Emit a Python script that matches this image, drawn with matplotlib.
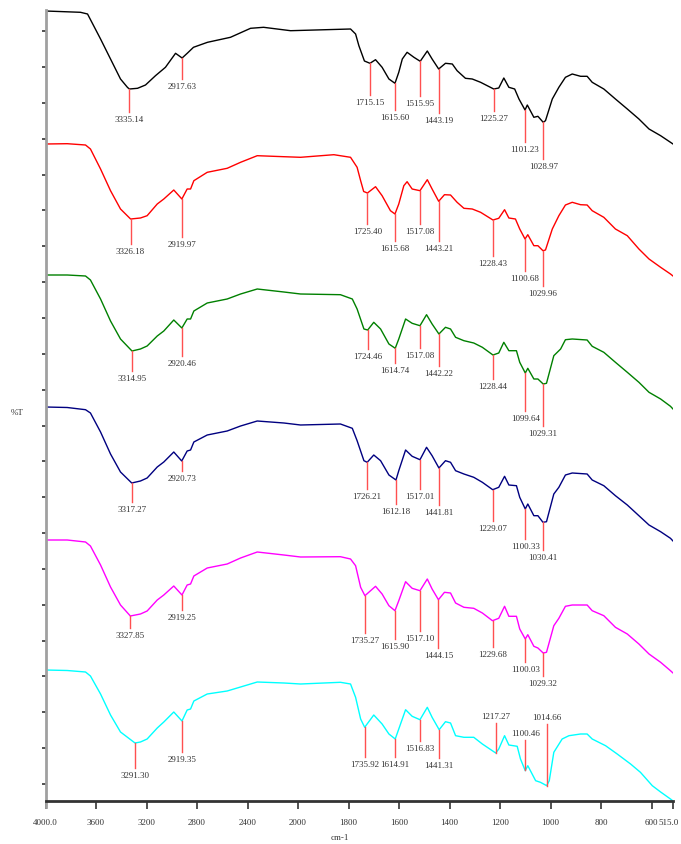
import numpy as np
import matplotlib
matplotlib.use('Agg')
import matplotlib.pyplot as plt
from matplotlib.transforms import ScaledTranslation

plt.rcParams['font.family'] = ['Liberation Serif', 'DejaVu Serif']

# Spectra (wavenumber in cm-1, %T in stacked arbitrary units)
wn_black = [4000, 3723, 3667, 3564, 3485, 3406, 3350, 3335, 3271, 3208,
            3129, 3050, 2970, 2918, 2875, 2828, 2717, 2535, 2376, 2273,
            2059, 1792, 1772, 1759, 1737, 1715, 1693, 1667, 1640, 1616,
            1601, 1587, 1568, 1541, 1516, 1488, 1469, 1443, 1416, 1389,
            1370, 1337, 1310, 1277, 1225, 1205, 1185, 1165, 1142, 1125,
            1101, 1092, 1066, 1050, 1029, 1020, 993, 967, 941, 914,
            881, 855, 835, 789, 743, 696, 650, 610, 564, 525, 515]
t_black = [790, 788.7, 787, 762, 742, 722, 713.5, 712, 712.7, 716,
           725.3, 733.7, 747.7, 743, 748, 753.7, 758.7, 763.7, 772.7, 773.7,
           770.3, 772, 767, 755.3, 740, 737.7, 741.3, 733.7, 722, 717.7,
           728.7, 742, 748.7, 743.7, 739.7, 750, 742, 732, 737.7, 737,
           730.3, 722.7, 722, 718.7, 712, 713, 723, 713.7, 712, 702,
           691, 696, 683.7, 684.7, 678.7, 680.3, 702, 713.7, 723.7, 727,
           724.7, 724.7, 718.7, 712, 702, 692, 682, 672, 665.3, 658.7, 657]

wn_red = [4000, 3828, 3683, 3644, 3564, 3485, 3406, 3326, 3248, 3195,
          3115, 3063, 2984, 2920, 2878, 2851, 2825, 2719, 2561, 2455,
          2323, 2112, 1990, 1858, 1792, 1766, 1752, 1740, 1725, 1693,
          1667, 1634, 1616, 1601, 1581, 1568, 1548, 1517, 1488, 1469,
          1443, 1420, 1396, 1370, 1343, 1310, 1277, 1228, 1205, 1182,
          1165, 1139, 1122, 1101, 1090, 1066, 1050, 1030, 1020, 993,
          967, 941, 914, 881, 855, 835, 789, 743, 696, 650,
          610, 564, 525, 515]
t_red = [657, 657.3, 656, 652, 632, 610.3, 592, 582, 583, 585.3,
         597, 602, 611, 602, 612, 612, 620.3, 628.7, 632.7, 638.7,
         645.3, 644.3, 643.7, 646.3, 643.7, 633.7, 620.3, 609.5, 608, 614.3,
         605.3, 590.3, 587, 597, 615.3, 619.3, 612, 610.3, 621.3, 612,
         599.7, 606.3, 606, 598.7, 592.7, 592, 588.7, 581, 582.7, 591.3,
         583, 582, 572, 562, 566.3, 555.3, 555.3, 550.3, 551, 572,
         585.3, 596, 598.7, 596.3, 596, 590.3, 583.7, 572, 565.3, 552,
         542, 533.7, 527, 525]

wn_green = [4000, 3828, 3683, 3644, 3564, 3485, 3406, 3315, 3248, 3195,
            3115, 3063, 2984, 2920, 2878, 2851, 2825, 2719, 2561, 2455,
            2323, 2112, 1990, 1832, 1785, 1766, 1739, 1724, 1700, 1673,
            1640, 1615, 1601, 1574, 1548, 1517, 1491, 1469, 1442, 1416,
            1396, 1376, 1343, 1304, 1270, 1228, 1205, 1185, 1165, 1135,
            1122, 1100, 1090, 1066, 1050, 1029, 1016, 987, 960, 941,
            914, 855, 835, 789, 743, 696, 650, 610, 564, 525, 515]
t_green = [526, 526, 525, 521, 502, 480, 462, 450, 452, 455,
           465, 470, 481, 473, 482, 482, 490, 498, 502, 507,
           512, 509, 507, 506.3, 502, 492, 472, 471, 478.7, 472,
           457, 452.7, 462, 482, 477.7, 475.3, 486.3, 477, 467, 473.7,
           472, 463.7, 460.3, 458, 453.7, 446, 448, 458.7, 450.3, 450.3,
           438.7, 428, 432.7, 422, 422, 417, 417.7, 445.3, 452, 461.3,
           462, 461, 454.7, 448.7, 438.7, 428.7, 418.7, 408.7, 402, 394.7, 392]

wn_blue = [4000, 3828, 3683, 3644, 3564, 3485, 3406, 3317, 3248, 3195,
           3115, 3063, 2984, 2921, 2878, 2851, 2825, 2719, 2561, 2455,
           2323, 2112, 1990, 1832, 1785, 1766, 1739, 1726, 1700, 1673,
           1640, 1612, 1601, 1574, 1548, 1517, 1491, 1469, 1442, 1416,
           1396, 1376, 1343, 1304, 1270, 1229, 1205, 1182, 1165, 1135,
           1122, 1100, 1090, 1066, 1050, 1030, 1016, 987, 967, 941,
           914, 855, 835, 789, 743, 696, 650, 610, 564, 525, 515]
t_blue = [394, 393.5, 391.3, 388, 369, 347, 329, 318, 320, 323,
          334, 339, 349, 340, 350, 351, 359, 366, 370, 375,
          380, 378, 376, 377, 372.7, 360.3, 340.3, 338.7, 346, 340.3,
          326, 321, 330.3, 351, 344.7, 341.3, 353.7, 345.3, 333, 340.3,
          338.7, 330.3, 327, 323.7, 318.7, 311.3, 313.7, 324.7, 316, 315.3,
          303.7, 292, 297, 285.3, 285.3, 278.7, 279.3, 307, 313.7, 326,
          328, 327, 321, 315.3, 305.3, 296, 285.3, 276, 269.3, 262.7, 260]

wn_magenta = [4000, 3828, 3683, 3644, 3564, 3485, 3406, 3328, 3248, 3195,
              3115, 3063, 2984, 2919, 2878, 2851, 2825, 2719, 2561, 2455,
              2323, 2112, 1990, 1832, 1792, 1772, 1752, 1735, 1693, 1667,
              1640, 1616, 1601, 1574, 1548, 1517, 1488, 1469, 1444, 1420,
              1396, 1376, 1343, 1304, 1270, 1230, 1205, 1182, 1165, 1135,
              1122, 1100, 1090, 1066, 1050, 1029, 1016, 987, 967, 941,
              914, 855, 835, 789, 743, 696, 650, 610, 564, 525, 515]
t_magenta = [261, 261, 259, 255, 236, 214, 196, 185, 187, 190,
             201, 206, 215, 206, 216, 217, 225, 233, 237, 243,
             249, 246, 244, 244.3, 242, 235.3, 213.7, 205.3, 214.7, 207,
             195.3, 190.3, 200.3, 219.3, 212.7, 210.3, 222, 212, 201.3, 208.7,
             208, 198, 193.7, 192.7, 188, 180.3, 182.7, 194.7, 184.7, 184.7,
             172, 162, 166.3, 154.7, 153, 148, 148.7, 175.3, 182.7, 194.7,
             196, 196, 190.3, 185.3, 173.7, 167, 157, 147, 138.7, 130.3, 128]

wn_cyan = [4000, 3828, 3683, 3644, 3564, 3485, 3406, 3291, 3248, 3195,
           3115, 3063, 2984, 2919, 2878, 2851, 2825, 2719, 2561, 2455,
           2323, 2112, 1990, 1832, 1792, 1772, 1752, 1736, 1700, 1667,
           1640, 1615, 1601, 1574, 1548, 1517, 1488, 1469, 1441, 1416,
           1396, 1376, 1343, 1304, 1270, 1217, 1205, 1182, 1165, 1132,
           1119, 1100, 1090, 1059, 1040, 1015, 1005, 987, 954, 927,
           881, 855, 835, 782, 736, 683, 644, 597, 564, 525, 515]
t_cyan = [131, 130.5, 129, 125, 107, 86, 69, 58, 59, 62,
          73, 79, 89, 80, 91, 92, 100, 107, 110, 114,
          119, 118, 117, 118.7, 117, 103.7, 82, 73.7, 86, 77,
          67, 62, 72, 91.3, 84.7, 81.3, 93.7, 83.7, 71.3, 79.3,
          78, 65.3, 63.7, 63.7, 57, 48, 52, 65.3, 56, 54.7,
          42, 30.3, 35.3, 20.3, 18.7, 15.3, 20.3, 48.7, 62, 65.3,
          67, 67, 62, 55.3, 47, 37, 28.7, 15.3, 9, 2, 0]

# Peak picks per spectrum, and the length of each marker line (negative = label above)
pk_black = [3335.14, 2917.63, 1715.15, 1615.60, 1515.95, 1443.19, 1225.27, 1101.23, 1028.97]
len_black = [23, 21, 32, 27, 35, 44, 22, 32, 37]
pk_red = [3326.18, 2919.97, 1725.40, 1615.68, 1517.08, 1443.21, 1228.43, 1100.68, 1029.96]
len_red = [25, 38, 31, 27, 33, 40, 36, 32, 35]
pk_green = [3314.95, 2920.46, 1724.46, 1614.74, 1517.08, 1442.22, 1228.44, 1099.64, 1029.31]
len_green = [20, 28, 19, 15, 22, 32, 24, 38, 42]
pk_blue = [3317.27, 2920.73, 1726.21, 1612.18, 1517.01, 1441.81, 1229.07, 1100.33, 1030.41]
len_blue = [19, 10, 27, 24, 29, 37, 31, 30, 28]
pk_magenta = [3327.85, 2919.25, 1735.27, 1615.90, 1517.10, 1444.15, 1229.68, 1100.03, 1029.32]
len_magenta = [12, 15, 37, 28, 40, 48, 26, 23, 23]
pk_cyan = [3291.30, 2919.35, 1735.92, 1614.91, 1516.83, 1441.31, 1217.27, 1100.46, 1014.66]
len_cyan = [25, 31, 30, 18, 21, 28, -30, -30, -62]

xticks = [4000, 3600, 3200, 2800, 2400, 2000, 1800, 1600, 1400, 1200, 1000, 800, 600, 515]
xticklabels = ['4000.0', '3600', '3200', '2800', '2400', '2000', '1800', '1600',
               '1400', '1200', '1000', '800', '600', '515.0']

spectra = [
    (wn_black, t_black, pk_black, len_black, 'black'),
    (wn_red, t_red, pk_red, len_red, '#ff0000'),
    (wn_green, t_green, pk_green, len_green, '#008000'),
    (wn_blue, t_blue, pk_blue, len_blue, '#000080'),
    (wn_magenta, t_magenta, pk_magenta, len_magenta, '#ff00ff'),
    (wn_cyan, t_cyan, pk_cyan, len_cyan, '#00ffff'),
]


# x axis is compressed 2x above 2000 cm-1, like the instrument software does
def fwd(w):
    w = np.asarray(w, dtype=float)
    return np.where(w > 2000, 2000 + (w - 2000) / 2, w)


def inv(t):
    t = np.asarray(t, dtype=float)
    return np.where(t > 2000, 2000 + (t - 2000) * 2, t)


fig = plt.figure(figsize=(6.81, 8.45), dpi=100)
ax = fig.add_axes([45.5 / 681, 37 / 845, 627.5 / 681, 797 / 845])
ax.set_xscale('function', functions=(fwd, inv))

label_kw = dict(fontsize=6.5, color='#333333', ha='center')
for wn, t, peaks, lengths, color in spectra:
    ax.plot(wn, t, color=color, lw=1)
    wa, ta = np.array(wn)[::-1], np.array(t)[::-1]
    for p, L in zip(peaks, lengths):
        y0 = np.interp(p, wa, ta)
        y1 = y0 - L
        ax.plot([p, p], [y0, y1], color='#ff5050', lw=1)
        if L > 0:
            ax.text(p, y1 - 3, f'{p:.2f}', va='top', **label_kw)
        else:
            ax.text(p, y1 + 3, f'{p:.2f}', va='bottom', **label_kw)

ax.set_xlim(4000, 515)
ax.set_ylim(-6, 791)
ax.set_xticks(xticks)
ax.set_xticklabels(xticklabels)
ax.xaxis.set_minor_locator(matplotlib.ticker.NullLocator())
ax.set_yticks(17 + 35.85 * np.arange(22))
ax.set_yticklabels([])

for s in ['top', 'right']:
    ax.spines[s].set_visible(False)
ax.spines['left'].set_color('#a0a0a0')
ax.spines['left'].set_linewidth(2)
ax.spines['bottom'].set_color('#333333')
ax.spines['bottom'].set_linewidth(2)
ax.spines['bottom'].set_position(('data', 0))

ax.tick_params(axis='x', direction='out', length=6, width=1.2, color='#333333',
               labelsize=6.5, labelcolor='#333333', pad=6)
ax.tick_params(axis='y', direction='out', length=3, width=1.2, color='#333333')

# nudge the last tick label so it stays inside the figure
last = ax.get_xticklabels()[-1]
last.set_transform(last.get_transform() + ScaledTranslation(-4 / 100, 0, fig.dpi_scale_trans))

fig.text(340 / 681, 1 - 838 / 845, 'cm-1', ha='center', va='center', fontsize=6.5, color='#333333')
fig.text(17 / 681, 1 - 413 / 845, '%T', ha='center', va='center', fontsize=6.5, color='#333333')

fig.savefig('out.png', dpi=100)
